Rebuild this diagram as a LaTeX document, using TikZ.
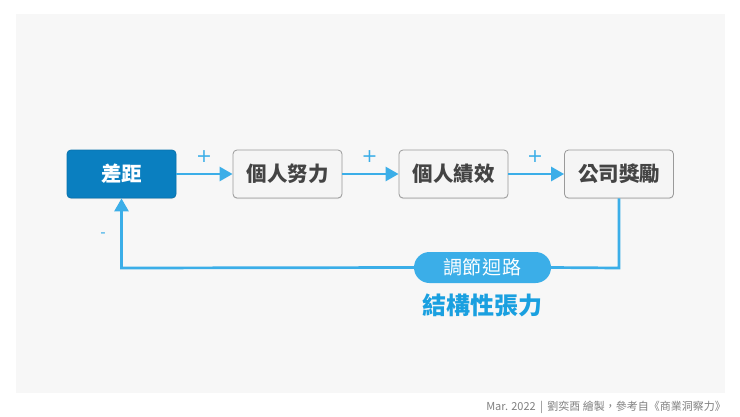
\documentclass[tikz,border=0pt]{standalone}
\usepackage{fontspec}
\newfontfamily\cjk{Noto Sans CJK TC}
\newfontfamily\signfont{DejaVu Sans}
\usetikzlibrary{arrows.meta,shadows,positioning}
\definecolor{panelbg}{HTML}{F7F7F7}
\definecolor{darkblue}{HTML}{0A7FC0}
\definecolor{lineblue}{HTML}{3BAEE8}
\definecolor{textblue}{HTML}{1AA0E0}
\definecolor{boxtext}{HTML}{444444}
\definecolor{boxborder}{HTML}{9A9A9A}
\tikzset{
  box/.style={draw=boxborder, line width=0.8pt, fill=white!96!black, rounded corners=4pt,
    minimum width=109pt, minimum height=48pt, font=\cjk\bfseries\fontsize{20.5}{22}\selectfont,
    text=boxtext, drop shadow={shadow xshift=0pt, shadow yshift=-1pt, opacity=0.25, fill=black!40}},
  gapbox/.style={box, draw=darkblue!90!black, fill=darkblue, text=white},
  flow/.style={draw=lineblue, line width=2.7pt, -{Triangle[length=13pt,width=14pt]}},
  plain/.style={draw=lineblue, line width=2.7pt},
  sign/.style={text=lineblue, font=\signfont\fontsize{19}{19}\selectfont},
  pill/.style={fill=lineblue, rounded corners=15.5pt, minimum width=137pt, minimum height=31pt,
    text=white, font=\cjk\fontsize{19}{20}\selectfont, inner sep=0pt},
}
\begin{document}
\begin{tikzpicture}[x=1pt,y=-1pt]
\useasboundingbox (0,0) rectangle (740,416);
\fill[white] (0,0) rectangle (740,416);
\fill[panelbg] (16,14) rectangle (725,393);
\node[gapbox] (gap) at (121.5,174) {差距};
\node[box] (effort) at (287.5,174) {個人努力};
\node[box] (perf) at (453.5,174) {個人績效};
\node[box] (reward) at (619,174) {公司獎勵};
\draw[flow] (gap) -- (effort);
\draw[flow] (effort) -- (perf);
\draw[flow] (perf) -- (reward);
\node[sign] (p1) at (204,157) {+};
\node[sign] (p2) at (369.5,157) {+};
\node[sign] (p3) at (535,157) {+};
\coordinate (c1) at (619,268);
\coordinate (c2) at (121.5,268);
\node[pill] (loop) at (482.5,267.5) {調\hspace{1pt}節\hspace{1pt}迴\hspace{1pt}路};
\draw[plain] (reward.south) -- (c1) -- (loop.east);
\draw[flow] (loop.west) -- (c2) -- (gap.south);
\node[sign, font=\signfont\fontsize{15}{15}\selectfont] (minus) at (103,235) {-};
\node[text=textblue, font=\cjk\bfseries\fontsize{24}{26}\selectfont] (tension) at (482.5,305) {結構性張力};
\node[anchor=east, text=black!50, font=\cjk\fontsize{11}{12}\selectfont, inner sep=0pt] (footer) at (726,407) {Mar. 2022 \,|\, 劉奕酉 繪製，參考自《商業洞察力》};
\end{tikzpicture}
\end{document}
